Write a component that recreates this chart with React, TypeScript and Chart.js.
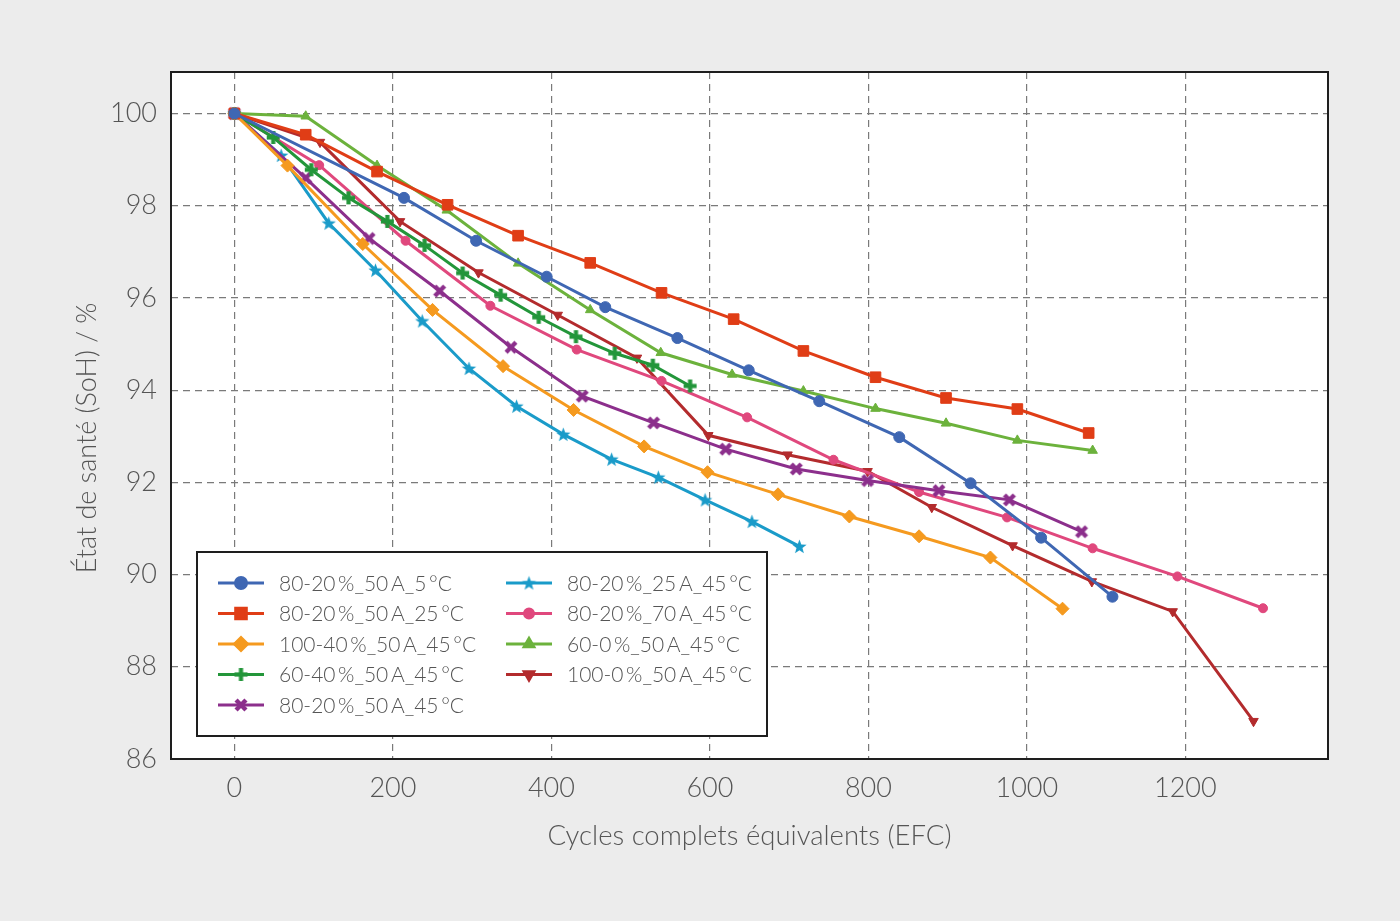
import React, { useEffect, useRef } from 'react';
import { Chart, registerables } from 'chart.js';
import { drawPoint } from 'chart.js/helpers';

Chart.register(...registerables);

// ---------- DATA ----------
const xTickValues = [0, 200, 400, 600, 800, 1000, 1200];
const yTickValues = [86, 88, 90, 92, 94, 96, 98, 100];

const xTitle = 'Cycles complets équivalents (EFC)';
const yTitle = 'État de santé (SoH) / %';

const labels = [
  '80-20\u2009%_50\u2009A_5\u2009°C',
  '80-20\u2009%_50\u2009A_25\u2009°C',
  '100-40\u2009%_50\u2009A_45\u2009°C',
  '60-40\u2009%_50\u2009A_45\u2009°C',
  '80-20\u2009%_50\u2009A_45\u2009°C',
  '80-20\u2009%_25\u2009A_45\u2009°C',
  '80-20\u2009%_70\u2009A_45\u2009°C',
  '60-0\u2009%_50\u2009A_45\u2009°C',
  '100-0\u2009%_50\u2009A_45\u2009°C',
];

const efc5C = [0, 214, 305, 394, 468, 559, 649, 738, 839, 929, 1018, 1108];
const soh5C = [100, 98.17, 97.24, 96.46, 95.8, 95.13, 94.43, 93.76, 92.98, 91.98, 90.8, 89.52];

const efc25C = [0, 90, 180, 269, 358, 449, 539, 630, 718, 809, 898, 988, 1078];
const soh25C = [100, 99.54, 98.74, 98.02, 97.35, 96.76, 96.11, 95.54, 94.85, 94.28, 93.83, 93.59, 93.07];

const efc100_40 = [0, 67, 162, 250, 339, 428, 517, 597, 686, 776, 864, 954, 1045];
const soh100_40 = [100, 98.87, 97.17, 95.74, 94.52, 93.57, 92.78, 92.22, 91.74, 91.26, 90.83, 90.37, 89.26];

const efc60_40 = [0, 49, 97, 144, 193, 240, 288, 336, 384, 431, 480, 528, 575];
const soh60_40 = [100, 99.48, 98.78, 98.17, 97.66, 97.14, 96.54, 96.06, 95.58, 95.16, 94.8, 94.54, 94.09];

const efc45C = [0, 90, 170, 259, 349, 439, 529, 620, 709, 799, 889, 978, 1069];
const soh45C = [100, 98.6, 97.29, 96.15, 94.93, 93.87, 93.29, 92.72, 92.29, 92.04, 91.82, 91.62, 90.93];

const efc25A = [0, 59, 119, 178, 237, 296, 356, 415, 476, 535, 594, 653, 713];
const soh25A = [100, 99.09, 97.62, 96.6, 95.5, 94.47, 93.65, 93.04, 92.5, 92.11, 91.62, 91.15, 90.61];

const efc70A = [0, 107, 216, 323, 432, 539, 647, 756, 864, 975, 1083, 1190, 1298];
const soh70A = [100, 98.88, 97.24, 95.83, 94.88, 94.2, 93.41, 92.49, 91.79, 91.24, 90.57, 89.96, 89.27];

const efc60_0 = [0, 90, 180, 268, 358, 449, 538, 628, 718, 809, 898, 988, 1083];
const soh60_0 = [100, 99.94, 98.87, 97.9, 96.75, 95.74, 94.81, 94.34, 93.98, 93.6, 93.28, 92.91, 92.69];

const efc100_0 = [0, 108, 209, 308, 408, 508, 598, 698, 799, 880, 982, 1082, 1184, 1286];
const soh100_0 = [100, 99.38, 97.66, 96.55, 95.63, 94.7, 93.02, 92.6, 92.24, 91.46, 90.63, 89.85, 89.2, 86.82];

const colors = ['#3f67b3', '#e03d16', '#f59a1f', '#23963a', '#8c2f8c', '#1a9bc9', '#e0487d', '#6cb23c', '#b32b2d'];

// ---------- STYLE ----------
const FONT = "Lato, 'Open Sans', 'DejaVu Sans', sans-serif";
const TEXT_COLOR = '#555555';

function makeStar(color: string, r: number) {
  const c = document.createElement('canvas');
  const s = Math.ceil(r * 2 + 2);
  c.width = s; c.height = s;
  const g = c.getContext('2d')!;
  g.fillStyle = color;
  g.beginPath();
  for (let i = 0; i < 10; i++) {
    const rad = i % 2 === 0 ? r : r * 0.42;
    const a = -Math.PI / 2 + (i * Math.PI) / 5;
    const px = s / 2 + rad * Math.cos(a);
    const py = s / 2 + 0.6 + rad * Math.sin(a);
    if (i === 0) g.moveTo(px, py); else g.lineTo(px, py);
  }
  g.closePath();
  g.fill();
  return c;
}

function makeCross(color: string, size: number, thick: number, rot: number) {
  const c = document.createElement('canvas');
  const s = Math.ceil(size + 2);
  c.width = s; c.height = s;
  const g = c.getContext('2d')!;
  g.translate(s / 2, s / 2);
  g.rotate(rot);
  g.fillStyle = color;
  g.fillRect(-size / 2, -thick / 2, size, thick);
  g.fillRect(-thick / 2, -size / 2, thick, size);
  return c;
}

export default function App() {
  const ref = useRef<HTMLCanvasElement | null>(null);

  useEffect(() => {
    if (!ref.current) return;
    const star = makeStar(colors[5], 7.5);
    const plus = makeCross(colors[3], 13, 4.2, 0);
    const xmark = makeCross(colors[4], 14, 4.4, Math.PI / 4);

    const series = [
      { xs: efc5C, ys: soh5C, style: 'circle', r: 5.5, rot: 0, lw: 3 },
      { xs: efc25C, ys: soh25C, style: 'rect', r: 7.5, rot: 0, lw: 3 },
      { xs: efc100_40, ys: soh100_40, style: 'rectRot', r: 6.5, rot: 0, lw: 3 },
      { xs: efc60_40, ys: soh60_40, style: plus, r: 6.5, rot: 0, lw: 3 },
      { xs: efc45C, ys: soh45C, style: xmark, r: 6.5, rot: 0, lw: 3 },
      { xs: efc25A, ys: soh25A, style: star, r: 7, rot: 0, lw: 3 },
      { xs: efc70A, ys: soh70A, style: 'circle', r: 4.5, rot: 0, lw: 3 },
      { xs: efc60_0, ys: soh60_0, style: 'triangle', r: 5.5, rot: 0, lw: 3 },
      { xs: efc100_0, ys: soh100_0, style: 'triangle', r: 5.5, rot: 180, lw: 3 },
    ];

    const datasets = series.map((s, i) => ({
      label: labels[i],
      data: s.xs.map((x, j) => ({ x, y: s.ys[j] })),
      borderColor: colors[i],
      backgroundColor: colors[i],
      pointStyle: s.style as any,
      pointRadius: s.r,
      pointHoverRadius: s.r,
      pointRotation: s.rot,
      pointBorderWidth: 1,
      borderWidth: s.lw,
      tension: 0,
      fill: false,
    }));

    const decor = {
      id: 'decor',
      beforeDraw(chart: any) {
        const { ctx, chartArea: a } = chart;
        ctx.save();
        ctx.fillStyle = '#ececec';
        ctx.fillRect(0, 0, chart.width, chart.height);
        ctx.fillStyle = '#ffffff';
        ctx.fillRect(a.left, a.top, a.right - a.left, a.bottom - a.top);
        ctx.restore();
      },
      afterDraw(chart: any) {
        const { ctx, chartArea: a } = chart;
        ctx.save();
        // plot frame
        ctx.strokeStyle = '#1e1e1e';
        ctx.lineWidth = 2;
        ctx.strokeRect(a.left, a.top, a.right - a.left, a.bottom - a.top);

        // y title
        ctx.fillStyle = TEXT_COLOR;
        ctx.font = `300 27px ${FONT}`;
        ctx.textAlign = 'center';
        ctx.textBaseline = 'middle';
        ctx.save();
        ctx.translate(87, 438);
        ctx.rotate(-Math.PI / 2);
        ctx.fillText(yTitle, 0, 0);
        ctx.restore();

        // legend
        const bx = 197, by = 552, bw = 570, bh = 184;
        ctx.fillStyle = '#ffffff';
        ctx.fillRect(bx, by, bw, bh);
        ctx.strokeStyle = '#1e1e1e';
        ctx.lineWidth = 2;
        ctx.strokeRect(bx, by, bw, bh);
        const cols = [241, 529];
        const rows = [583, 613.5, 644, 674.5, 705];
        const order = [[0, 0, 0], [1, 0, 1], [2, 0, 2], [3, 0, 3], [4, 0, 4], [5, 1, 0], [6, 1, 1], [7, 1, 2], [8, 1, 3]];
        ctx.font = `300 21px ${FONT}`;
        ctx.textAlign = 'left';
        ctx.textBaseline = 'middle';
        for (const [i, c, r] of order) {
          const cx = cols[c];
          const cy = rows[r];
          ctx.strokeStyle = colors[i];
          ctx.fillStyle = colors[i];
          ctx.lineWidth = 3;
          ctx.beginPath();
          ctx.moveTo(cx - 23, cy);
          ctx.lineTo(cx + 23, cy);
          ctx.stroke();
          const s = series[i];
          drawPoint(ctx, { pointStyle: s.style as any, radius: s.r, rotation: s.rot, borderWidth: 1 } as any, cx, cy);
          ctx.fillStyle = TEXT_COLOR;
          ctx.fillText(labels[i], cx + 38, cy + 1);
        }
        ctx.restore();
      },
    };

    const tickFont = { family: FONT, size: 27, weight: '300' as any };

    const chart = new Chart(ref.current, {
      type: 'line',
      data: { datasets },
      options: {
        animation: false,
        responsive: true,
        maintainAspectRatio: false,
        layout: { padding: { left: 0, top: 72, right: 72, bottom: 0 } },
        plugins: { legend: { display: false }, tooltip: { enabled: false } },
        scales: {
          x: {
            type: 'linear',
            min: -80,
            max: 1380,
            afterBuildTicks: (scale: any) => {
              scale.ticks = xTickValues.map((v) => ({ value: v }));
            },
            afterFit: (scale: any) => { scale.height = 162; },
            grid: { color: '#7a7a7a', lineWidth: 1.2, drawTicks: false },
            border: { display: false, dash: [7, 5] },
            ticks: { color: TEXT_COLOR, font: tickFont, padding: 13, maxRotation: 0, callback: (v: any) => String(v) },
            title: { display: true, text: xTitle, color: TEXT_COLOR, font: { family: FONT, size: 27.5, weight: '300' as any }, padding: { top: 0, bottom: 68 } },
          },
          y: {
            type: 'linear',
            min: 86,
            max: 100.9,
            afterBuildTicks: (scale: any) => {
              scale.ticks = yTickValues.map((v) => ({ value: v }));
            },
            afterFit: (scale: any) => { scale.width = 171; },
            grid: { color: '#7a7a7a', lineWidth: 1.2, drawTicks: false },
            border: { display: false, dash: [7, 5] },
            ticks: { color: TEXT_COLOR, font: tickFont, padding: 14, callback: (v: any) => String(v) },
            title: { display: false },
          },
        },
      },
      plugins: [decor],
    });
    return () => chart.destroy();
  }, []);

  return (
    <div style={{ position: 'fixed', left: 0, top: 0, width: 1400, height: 921, background: '#ececec' }}>
      <canvas ref={ref} />
    </div>
  );
}
